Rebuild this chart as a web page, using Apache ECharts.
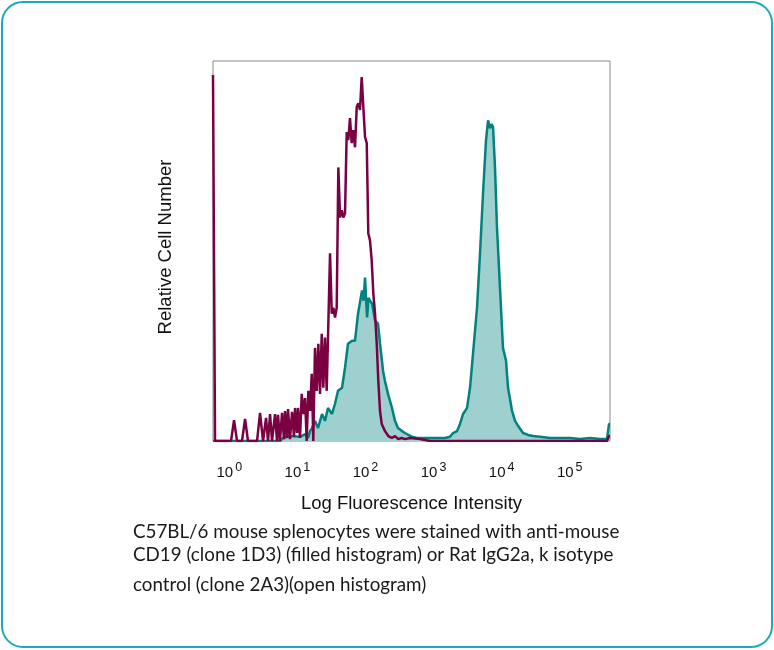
<!DOCTYPE html>
<html>
<head>
<meta charset="utf-8">
<script src="https://cdn.jsdelivr.net/npm/echarts@6/dist/echarts.min.js"></script>
<style>
  html, body { margin: 0; padding: 0; background: #fff; }
  #wrap { position: relative; width: 774px; height: 650px; }
  #card {
    position: absolute; left: 1px; top: 1px; width: 768px; height: 643px;
    border: 2px solid #1aa9bf; border-radius: 22px;
  }
  #chart { position: absolute; left: 0; top: 0; width: 774px; height: 650px; }
</style>
</head>
<body>
<div id="wrap">
  <div id="card"></div>
  <div id="chart"></div>
</div>
<script>
// x = log10 fluorescence (decades), y = relative cell number (0-100)
var decades = [0, 1, 2, 3, 4, 5];

// isotype control (open histogram)
var isoX = [-0.181, -0.151, 0.084, 0.128, 0.172, 0.245, 0.290, 0.333, 0.466, 0.510, 0.554,
  0.598, 0.627, 0.657, 0.686, 0.730, 0.759, 0.774, 0.803, 0.833, 0.862, 0.877, 0.906, 0.921,
  0.950, 0.980, 1.009, 1.024, 1.053, 1.068, 1.097, 1.122, 1.146, 1.171, 1.195, 1.219, 1.244,
  1.269, 1.292, 1.317, 1.342, 1.366, 1.391, 1.416, 1.439, 1.464, 1.489, 1.513, 1.538, 1.563,
  1.586, 1.611, 1.636, 1.660, 1.685, 1.710, 1.734, 1.758, 1.783, 1.806, 1.831, 1.856, 1.880,
  1.905, 1.930, 1.953, 1.978, 2.003, 2.027, 2.052, 2.077, 2.100, 2.125, 2.150, 2.174, 2.199,
  2.224, 2.247, 2.272, 2.297, 2.345, 2.394, 2.444, 2.492, 2.541, 2.591, 2.639, 2.712, 2.859,
  3.006, 4.034, 5.606, 5.636, 5.650];
var isoY = [96.3, 0, 0, 5.5, 0, 0, 5.8, 0, 0, 7.4, 0,
  6.1, 0, 7.1, 0, 7.1, 0, 6.9, 0, 7.4, 0.5, 7.9, 0.8, 8.4,
  0.5, 7.7, 1.1, 8.7, 2.1, 8.7, 0.8, 12.4, 7.1, 11.3, 0, 13.2, 7.9,
  17.7, 0, 24.5, 13.2, 25.6, 12.4, 28.2, 14.0, 27.2, 13.2, 30.9, 49.4, 33.5,
  35.1, 32.5, 35.1, 72.0, 58.8, 60.7, 58.8, 59.9, 81.3, 79.2, 85.0, 78.4, 81.8,
  77.3, 87.9, 88.9, 87.1, 95.8, 87.9, 80.0, 78.4, 54.6, 52.8, 47.5, 38.8, 33.5,
  25.6, 15.8, 7.9, 4.5, 2.6, 1.3, 0.8, 1.3, 0.5, 0.8, 0.5, 0.8, 0.5,
  0, 0, 0, 1.3, 1.3];

// anti-mouse CD19 (filled histogram)
var cd19X = [-0.181, 0.803, 0.847, 0.950, 1.097, 1.171, 1.215, 1.244, 1.273, 1.317, 1.361,
  1.420, 1.464, 1.508, 1.567, 1.611, 1.655, 1.714, 1.758, 1.802, 1.861, 1.905, 1.949, 2.008,
  2.030, 2.052, 2.082, 2.103, 2.125, 2.155, 2.199, 2.243, 2.272, 2.301, 2.316, 2.345, 2.389,
  2.448, 2.492, 2.536, 2.595, 2.639, 2.668, 2.742, 2.815, 2.933, 3.080, 3.227, 3.300, 3.344,
  3.403, 3.447, 3.491, 3.521, 3.550, 3.594, 3.638, 3.697, 3.741, 3.785, 3.829, 3.859, 3.888,
  3.910, 3.932, 3.961, 3.990, 4.034, 4.078, 4.123, 4.152, 4.181, 4.211, 4.255, 4.299, 4.373,
  4.446, 4.519, 4.622, 4.769, 4.916, 5.063, 5.210, 5.357, 5.504, 5.606, 5.636, 5.650];
var cd19Y = [0, 0, 0.8, 1.3, 1.1, 1.8, 0.8, 2.6, 3.4, 5.3, 3.4,
  7.1, 5.3, 8.7, 7.1, 9.8, 13.2, 14.0, 19.3, 25.6, 26.4, 26.4, 33.5, 39.6,
  36.9, 43.0, 32.5, 37.7, 36.9, 36.2, 31.7, 30.9, 25.6, 21.1, 18.5, 15.8, 12.4,
  8.7, 5.3, 3.4, 2.6, 2.1, 1.8, 1.1, 0.8, 0.8, 0.8, 0.8, 1.1, 2.1,
  2.6, 4.5, 7.1, 7.9, 8.7, 14.0, 23.0, 35.1, 49.4, 65.2, 79.2, 84.4, 82.3,
  83.4, 82.6, 72.0, 56.2, 40.4, 24.5, 21.1, 14.0, 11.1, 7.9, 5.3, 4.0, 2.1,
  1.6, 1.3, 1.1, 0.8, 0.8, 0.8, 0.5, 0.8, 0.5, 0.5, 4.5, 4.5];

var captionLines = [
  'C57BL/6 mouse splenocytes were stained with anti-mouse',
  'CD19 (clone 1D3) (filled histogram) or Rat IgG2a, k isotype',
  'control (clone 2A3)(open histogram)'
];

function zip(xs, ys) {
  return xs.map(function (x, i) { return [x, ys[i]]; });
}

var chart = echarts.init(document.getElementById('chart'), null, { renderer: 'canvas' });

var option = {
  animation: false,
  grid: {
    left: 213, top: 61, width: 397, height: 380,
    show: true, borderColor: '#8a8a8a', borderWidth: 1, backgroundColor: 'transparent'
  },
  xAxis: {
    type: 'value',
    min: -0.181,
    max: 5.65,
    name: 'Log Fluorescence Intensity',
    nameLocation: 'middle',
    nameGap: 53,
    nameTextStyle: { fontFamily: 'Liberation Sans', fontSize: 18.5, color: '#111' },
    axisLine: { show: false },
    axisTick: { show: false },
    splitLine: { show: false },
    axisLabel: {
      customValues: decades,
      margin: 20,
      padding: [0, 0, 0, 8],
      formatter: function (v) { return '{b|10}{s|' + v + '}'; },
      rich: {
        b: { fontFamily: 'Liberation Sans', fontSize: 15, color: '#111' },
        s: { fontFamily: 'Liberation Sans', fontSize: 12.5, color: '#111', padding: [0, 0, 11, 2] }
      }
    }
  },
  yAxis: {
    type: 'value',
    min: 0,
    max: 100,
    name: 'Relative Cell Number',
    nameLocation: 'middle',
    nameGap: 38,
    nameTextStyle: { fontFamily: 'Liberation Sans', fontSize: 18.5, color: '#111', padding: [0, 0, 0, 8] },
    axisLine: { show: false },
    axisTick: { show: false },
    axisLabel: { show: false },
    splitLine: { show: false }
  },
  series: [
    {
      name: 'CD19',
      type: 'line',
      data: zip(cd19X, cd19Y),
      symbol: 'none',
      lineStyle: { color: '#00827f', width: 2.5 },
      areaStyle: { color: '#9ed0d0', opacity: 1 },
      z: 2
    },
    {
      name: 'Isotype',
      type: 'line',
      data: zip(isoX, isoY),
      symbol: 'none',
      lineStyle: { color: '#7a0042', width: 2.5 },
      z: 3
    }
  ],
  graphic: captionLines.map(function (t, i) {
    return {
      type: 'text',
      left: 133,
      top: [522, 545, 575.5][i],
      style: {
        text: t,
        fontFamily: 'Lato',
        fontSize: 18.8,
        fill: '#1a1a1a'
      }
    };
  })
};

chart.setOption(option);
</script>
</body>
</html>
